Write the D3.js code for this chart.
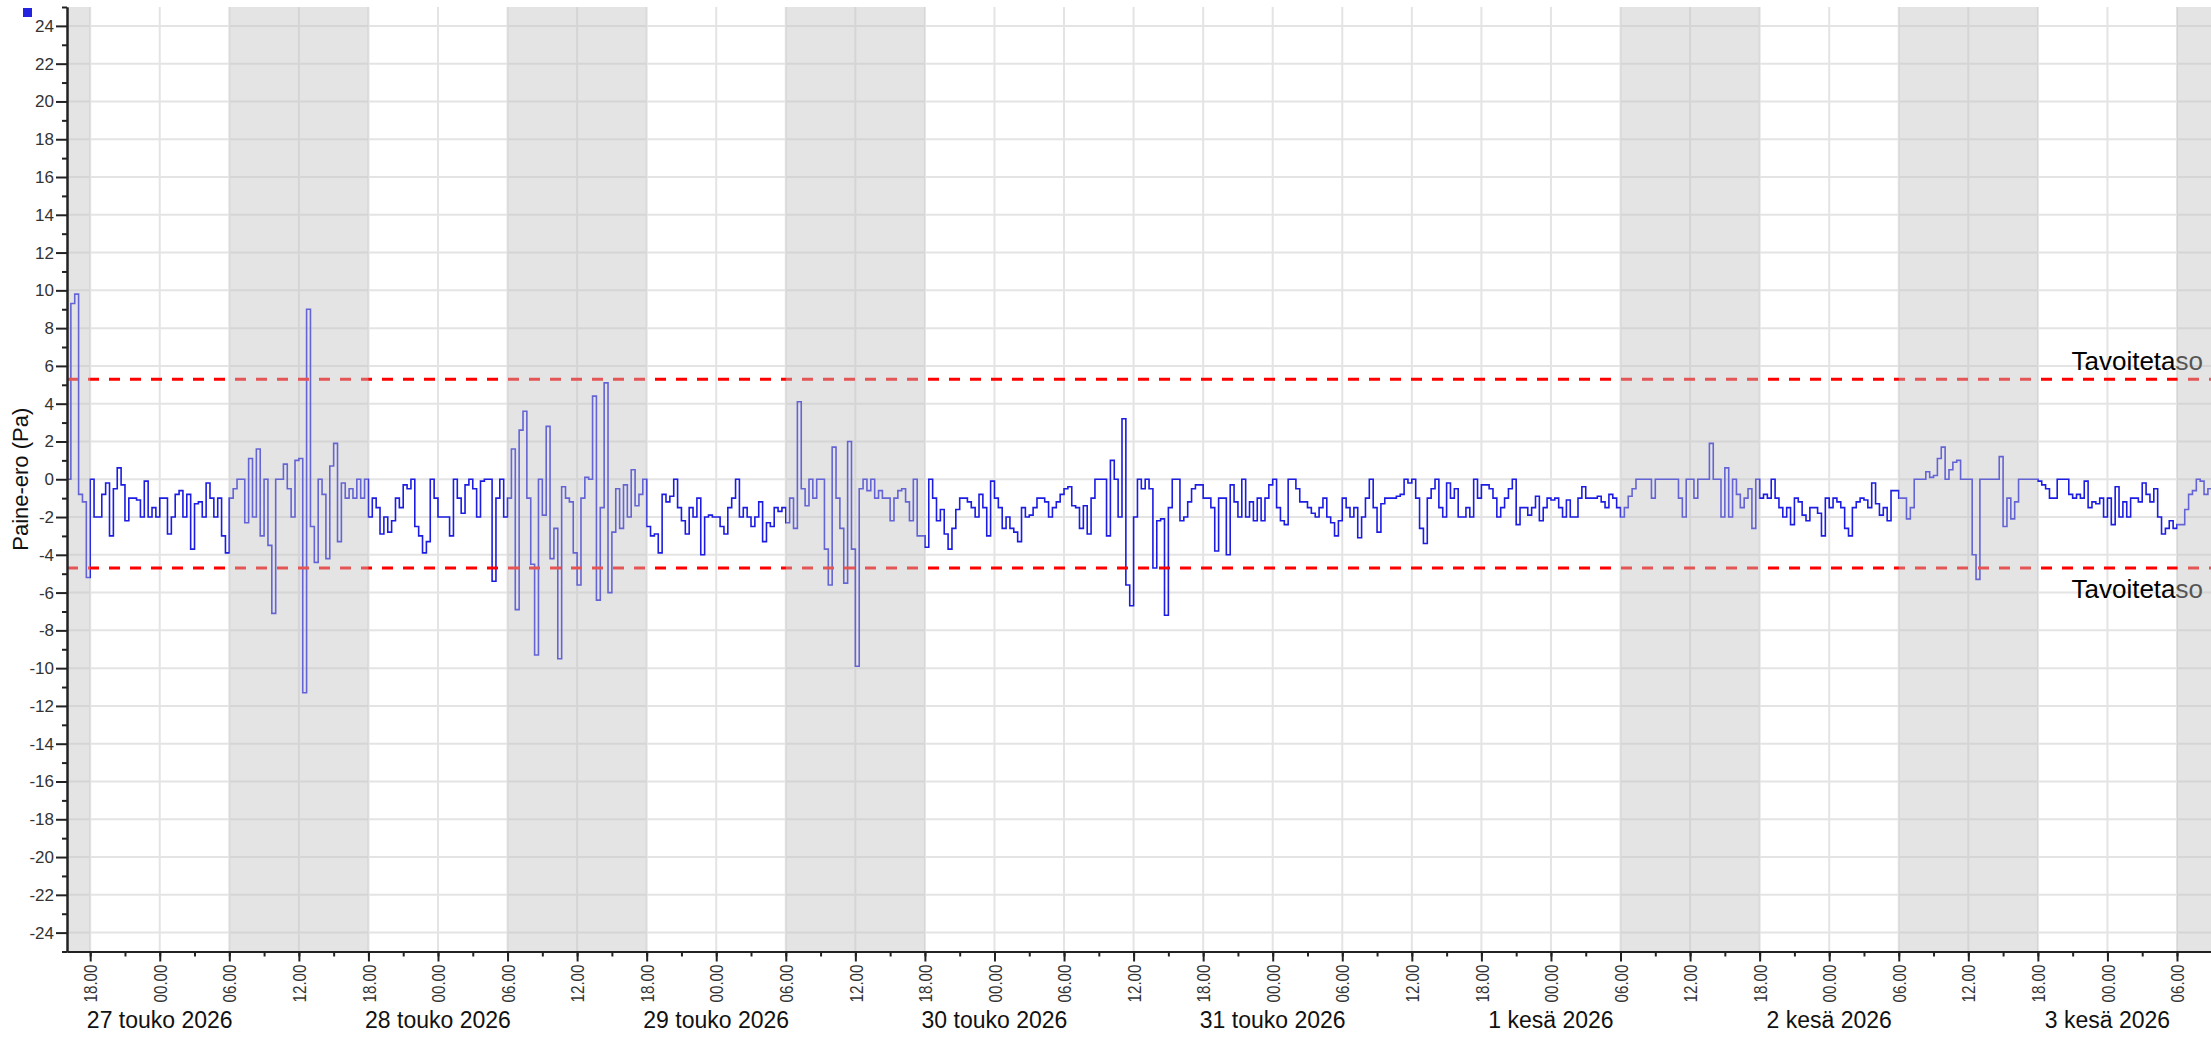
<!DOCTYPE html>
<html>
<head>
<meta charset="utf-8">
<script src="https://cdnjs.cloudflare.com/ajax/libs/d3/7.8.5/d3.min.js"></script>
<style>
  html, body { margin: 0; padding: 0; background: #fff; overflow: hidden; }
  svg { display: block; font-family: "Liberation Sans", Arial, sans-serif; }
</style>
</head>
<body>
<svg id="chart"></svg>
<script>
// Paine-ero readings, one value every 20 minutes from 26.5.2026 16:00
const startTime = new Date(2026, 4, 26, 16, 0);
const stepMinutes = 20;
const pressureValues = [
  0, 9.3, 9.8, -0.8, -1.2, -5.2, 0, -2, -2, -0.8,
  -0.2, -3.0, -0.5, 0.6, -0.3, -2.2, -1.0, -1.0, -1.1, -2.0,
  -0.1, -2.0, -1.5, -2.0, -1.0, -1.0, -2.9, -2.0, -0.8, -0.6,
  -2.0, -0.8, -3.7, -1.3, -1.2, -2.0, -0.2, -1.0, -2.0, -1.0,
  -3.0, -3.9, -1.0, -0.5, 0, 0, -2.3, 1.1, -2.0, 1.6,
  -3.0, 0, -3.5, -7.1, 0, 0, 0.8, -0.5, -2.0, 1.0,
  1.1, -11.3, 9.0, -2.5, -4.4, 0, -0.8, -4.2, 0.7, 1.9,
  -3.3, -0.2, -1.0, -0.5, -1.0, 0, -1.0, 0, -2.0, -1.0,
  -1.5, -2.9, -2.0, -2.8, -2.2, -1.0, -1.5, -0.3, -0.5, 0,
  -2.5, -3.0, -3.9, -3.3, 0, -1.0, -2.0, -2.0, -2.0, -3.0,
  0, -1.0, -1.8, -0.3, 0, -0.5, -2.0, -0.1, 0, 0,
  -5.4, -1.0, 0, -2.0, -1.0, 1.6, -6.9, 2.6, 3.6, -1.0,
  -4.5, -9.3, 0, -1.9, 2.8, -4.2, -2.6, -9.5, -0.4, -1.0,
  -1.2, -3.9, -5.6, -1.0, 0.1, 0, 4.4, -6.4, -1.5, 5.1,
  -6.0, -2.8, -0.5, -2.6, -0.3, -2.0, 0.5, -1.4, -0.8, 0,
  -2.5, -3.0, -2.9, -3.9, -0.8, -1.2, -0.9, 0, -1.5, -2.2,
  -2.9, -1.5, -2.0, -1.0, -4.0, -2.0, -1.9, -2.0, -2.0, -2.5,
  -2.9, -1.5, -1.0, 0, -2.0, -1.5, -2.0, -2.5, -2.0, -1.2,
  -3.3, -2.3, -2.5, -1.5, -1.7, -1.5, -2.3, -1.0, -2.6, 4.1,
  -0.5, -1.4, 0, -1.0, 0, 0, -3.7, -5.6, 1.7, -1.0,
  -2.6, -5.5, 2.0, -3.7, -9.9, -0.5, 0, -0.6, 0, -1.0,
  -0.6, -1.0, -1.0, -2.2, -1.0, -0.6, -0.5, -1.2, -2.2, 0,
  -3.0, -3.0, -3.6, 0, -1.0, -2.2, -1.6, -2.9, -3.7, -2.6,
  -1.6, -1.0, -1.0, -1.2, -1.5, -2.0, -0.8, -1.5, -3.0, -0.1,
  -1.0, -1.5, -2.6, -2.0, -2.6, -2.8, -3.3, -1.5, -2.0, -1.9,
  -1.5, -1.0, -1.0, -1.2, -2.0, -1.5, -1.2, -0.8, -0.5, -0.4,
  -1.4, -1.5, -2.6, -1.4, -2.9, -1.0, 0, 0, 0, -3.0,
  1.0, 0, -2.0, 3.2, -5.6, -6.7, -2.0, 0, -0.5, 0,
  -0.5, -4.7, -2.2, -2.1, -7.2, -1.5, 0, 0, -2.2, -2.0,
  -1.2, -0.5, -0.3, -0.3, -1.0, -1.0, -1.5, -3.8, -1.0, -1.0,
  -4.0, -0.3, -1.2, -2.0, 0, -2.0, -1.2, -2.2, -1.0, -2.2,
  -1.0, -0.3, 0, -1.5, -2.2, -2.4, 0, 0, -0.5, -1.2,
  -1.2, -1.5, -1.8, -2.0, -1.5, -1.0, -2.0, -2.3, -3.0, -2.2,
  -1.0, -1.5, -2.0, -1.5, -3.1, -2.0, -1.0, 0, -1.5, -2.8,
  -1.3, -1.0, -1.0, -1.0, -0.9, -0.8, 0, -0.2, 0, -1.0,
  -2.6, -3.4, -1.0, -0.5, 0, -1.5, -2.0, -0.2, -1.0, -0.5,
  -2.0, -2.0, -1.5, -2.0, 0, -1.0, -0.3, -0.3, -0.5, -1.0,
  -2.0, -1.5, -1.0, -0.5, 0, -2.4, -1.5, -1.5, -1.9, -1.5,
  -0.9, -2.2, -1.5, -1.0, -1.1, -1.0, -1.5, -2.0, -1.1, -2.0,
  -2.0, -1.0, -0.4, -1.0, -1.0, -1.0, -0.9, -1.2, -1.5, -0.8,
  -1.0, -1.5, -2.0, -1.5, -0.9, -0.5, 0, 0, 0, 0,
  -1.0, 0, 0, 0, 0, 0, 0, -1.0, -2.0, 0,
  0, -1.0, 0, 0, 0, 1.9, 0, 0, -2.0, 0.6,
  -2.0, 0, -0.8, -1.5, -1.0, -0.5, -2.6, 0, -1.0, -0.8,
  -1.0, 0, -1.0, -1.5, -2.0, -1.5, -2.4, -1.0, -1.2, -1.9,
  -2.2, -1.5, -1.5, -1.8, -3.0, -1.0, -1.5, -1.0, -1.2, -1.5,
  -2.6, -3.0, -1.5, -1.2, -1.0, -1.1, -1.5, -0.2, -1.3, -1.9,
  -1.5, -2.2, -0.6, -0.6, -1.0, -1.0, -2.1, -1.5, 0, 0,
  0, 0.4, 0.1, 0.2, 1.1, 1.7, 0, 0.5, 0.9, 1.0,
  0, 0, 0, -4.0, -5.3, 0, 0, 0, 0, 0,
  1.2, -2.5, -1.0, -2.1, -1.2, 0, 0, 0, 0, 0,
  -0.1, -0.3, -0.5, -1.0, -1.0, 0, 0, 0, -0.8, -1.0,
  -0.8, -1.0, -0.1, -1.5, -1.2, -1.3, -1.0, -2.0, -1.0, -2.4,
  -0.4, -2.0, -1.2, -2.0, -1.0, -1.0, -1.2, -0.2, -0.8, -1.2,
  -0.5, -2.0, -2.9, -2.6, -2.2, -2.6, -2.4, -2.4, -1.6, -0.8,
  -0.6, 0, -0.1, -0.8, -0.5, 0
];

// Tavoitetaso (target band)
const targetLevels = [5.3, -4.7];
const targetLabel = 'Tavoitetaso';

// working days, shaded 06.00-18.00
const workDays = ['2026-05-26', '2026-05-27', '2026-05-28', '2026-05-29', '2026-06-01', '2026-06-02', '2026-06-03'];

// day labels under the time axis
const labelDays = ['2026-05-27', '2026-05-28', '2026-05-29', '2026-05-30', '2026-05-31', '2026-06-01', '2026-06-02', '2026-06-03'];
const monthNames = ['tammi', 'helmi', 'maalis', 'huhti', 'touko', 'kesä', 'heinä', 'elo', 'syys', 'loka', 'marras', 'joulu'];

const yTickValues = [-24, -22, -20, -18, -16, -14, -12, -10, -8, -6, -4, -2, 0, 2, 4, 6, 8, 10, 12, 14, 16, 18, 20, 22, 24];
const yMinorValues = [-25, -23, -21, -19, -17, -15, -13, -11, -9, -7, -5, -3, -1, 1, 3, 5, 7, 9, 11, 13, 15, 17, 19, 21, 23, 25];
const yTitle = 'Paine-ero (Pa)';

class PressureChart {

  constructor(_config, _data) {
    this.config = {
      parentElement: _config.parentElement,
      containerWidth: _config.containerWidth || 2211,
      containerHeight: _config.containerHeight || 1037,
      margin: _config.margin || {top: 7, right: 0, bottom: 85.5, left: 67},
    }
    this.data = _data;
    this.initVis();
  }

  initVis() {
    let vis = this;

    vis.width = vis.config.containerWidth - vis.config.margin.left - vis.config.margin.right;
    vis.height = vis.config.containerHeight - vis.config.margin.top - vis.config.margin.bottom;

    vis.xScale = d3.scaleTime()
        .domain([new Date(2026, 4, 26, 16, 0), new Date(2026, 5, 3, 8, 56)])
        .range([0, vis.width]);

    vis.yScale = d3.scaleLinear()
        .domain([-25, 25])
        .range([vis.height, 0]);

    vis.svg = d3.select(vis.config.parentElement)
        .attr('width', vis.config.containerWidth)
        .attr('height', vis.config.containerHeight);

    vis.chart = vis.svg.append('g')
        .attr('transform', `translate(${vis.config.margin.left},${vis.config.margin.top})`);

    vis.svg.append('defs').append('clipPath')
        .attr('id', 'plot-clip')
      .append('rect')
        .attr('width', vis.width)
        .attr('height', vis.height);

    vis.gridG = vis.chart.append('g').attr('class', 'grid');
    vis.lineG = vis.chart.append('g').attr('clip-path', 'url(#plot-clip)');
    vis.targetG = vis.chart.append('g').attr('class', 'targets');
    vis.bandG = vis.chart.append('g').attr('clip-path', 'url(#plot-clip)');

    vis.xAxisG = vis.chart.append('g')
        .attr('class', 'axis x-axis')
        .attr('transform', `translate(0,${vis.height})`);
    vis.xMinorG = vis.chart.append('g')
        .attr('transform', `translate(0,${vis.height})`);
    vis.yAxisG = vis.chart.append('g').attr('class', 'axis y-axis');
    vis.yMinorG = vis.chart.append('g');

    // small legend marker in the corner
    vis.svg.append('rect')
        .attr('x', 23)
        .attr('y', 8)
        .attr('width', 9)
        .attr('height', 9)
        .attr('fill', '#2424e0');

    vis.svg.append('text')
        .attr('transform', `translate(28,${vis.config.margin.top + vis.height / 2}) rotate(-90)`)
        .attr('text-anchor', 'middle')
        .attr('font-size', 22)
        .attr('fill', '#111')
        .text(yTitle);
  }

  updateVis() {
    let vis = this;

    vis.points = vis.data.map((v, i) => ({
      time: d3.timeMinute.offset(startTime, i * stepMinutes),
      value: v
    }));

    const parseDay = d3.timeParse('%Y-%m-%d');
    vis.bands = workDays.map(d => {
      const day = parseDay(d);
      return {start: d3.timeHour.offset(day, 6), end: d3.timeHour.offset(day, 18)};
    });
    vis.dayLabels = labelDays.map(d => {
      const day = parseDay(d);
      return {time: day, label: `${day.getDate()} ${monthNames[day.getMonth()]} ${day.getFullYear()}`};
    });

    vis.majorTimes = vis.xScale.ticks(d3.timeHour.every(6));

    vis.renderVis();
  }

  renderVis() {
    let vis = this;

    // grid
    vis.gridG.selectAll('.hgrid')
        .data(yTickValues)
      .join('line')
        .attr('class', 'hgrid')
        .attr('x1', 0)
        .attr('x2', vis.width)
        .attr('y1', d => vis.yScale(d))
        .attr('y2', d => vis.yScale(d))
        .attr('stroke', '#e4e4e4')
        .attr('stroke-width', 2);

    vis.gridG.selectAll('.vgrid')
        .data(vis.majorTimes)
      .join('line')
        .attr('class', 'vgrid')
        .attr('x1', d => vis.xScale(d))
        .attr('x2', d => vis.xScale(d))
        .attr('y1', 0)
        .attr('y2', vis.height)
        .attr('stroke', '#e4e4e4')
        .attr('stroke-width', 2);

    // measurement line
    const line = d3.line()
        .x(d => vis.xScale(d.time))
        .y(d => vis.yScale(d.value))
        .curve(d3.curveStepAfter);

    vis.lineG.append('path')
        .datum(vis.points)
        .attr('fill', 'none')
        .attr('stroke', '#1c1ce2')
        .attr('stroke-width', 1.6)
        .attr('d', line);

    // target levels
    vis.targetG.selectAll('.target')
        .data(targetLevels)
      .join('line')
        .attr('class', 'target')
        .attr('x1', 0)
        .attr('x2', vis.width)
        .attr('y1', d => vis.yScale(d))
        .attr('y2', d => vis.yScale(d))
        .attr('stroke', '#ff0000')
        .attr('stroke-width', 3)
        .attr('stroke-dasharray', '11,10');

    vis.targetG.selectAll('.target-label')
        .data(targetLevels)
      .join('text')
        .attr('class', 'target-label')
        .attr('x', vis.width - 8)
        .attr('y', d => d > 0 ? vis.yScale(d) - 9 : vis.yScale(d) + 30)
        .attr('text-anchor', 'end')
        .attr('font-size', 26)
        .attr('fill', '#000')
        .text(targetLabel);

    // daytime shading sits on top, half transparent
    vis.bandG.selectAll('.band')
        .data(vis.bands)
      .join('rect')
        .attr('class', 'band')
        .attr('x', d => vis.xScale(d.start))
        .attr('width', d => vis.xScale(d.end) - vis.xScale(d.start))
        .attr('y', -1)
        .attr('height', vis.height + 1)
        .attr('fill', 'rgb(193,193,193)')
        .attr('fill-opacity', 0.44);

    // axes
    vis.yAxis = d3.axisLeft(vis.yScale)
        .tickValues(yTickValues)
        .tickSize(11)
        .tickSizeOuter(0)
        .tickPadding(2)
        .tickFormat(d => String(d));

    vis.yAxisG.call(vis.yAxis);
    vis.yAxisG.selectAll('text')
        .attr('font-size', 17)
        .attr('fill', '#333');

    vis.yMinorG.call(d3.axisLeft(vis.yScale).tickValues(yMinorValues).tickSize(5).tickSizeOuter(0).tickFormat(''));

    vis.xAxis = d3.axisBottom(vis.xScale)
        .ticks(d3.timeHour.every(6))
        .tickSize(10)
        .tickSizeOuter(0)
        .tickFormat(d3.timeFormat('%H.%M'));

    vis.xAxisG.call(vis.xAxis)
      .selectAll('text')
        .attr('transform', 'rotate(-90)')
        .attr('text-anchor', 'end')
        .attr('x', -13)
        .attr('y', 0)
        .attr('dy', '0.35em')
        .attr('font-size', 19)
        .attr('textLength', 38)
        .attr('lengthAdjust', 'spacingAndGlyphs')
        .attr('fill', '#333');

    vis.xMinorG.call(d3.axisBottom(vis.xScale).ticks(d3.timeHour.every(3)).tickSize(5).tickSizeOuter(0).tickFormat(''));

    vis.chart.selectAll('.axis path, .axis line, g path.domain')
        .attr('stroke', '#222')
        .attr('stroke-width', 2);
    vis.xMinorG.selectAll('line').attr('stroke', '#222').attr('stroke-width', 2);
    vis.yMinorG.selectAll('line').attr('stroke', '#222').attr('stroke-width', 2);

    // day labels
    vis.chart.selectAll('.day-label')
        .data(vis.dayLabels)
      .join('text')
        .attr('class', 'day-label')
        .attr('x', d => vis.xScale(d.time))
        .attr('y', vis.height + 76)
        .attr('text-anchor', 'middle')
        .attr('font-size', 23)
        .attr('fill', '#111')
        .text(d => d.label);
  }
}

const chart = new PressureChart({parentElement: '#chart'}, pressureValues);
chart.updateVis();
</script>
</body>
</html>
